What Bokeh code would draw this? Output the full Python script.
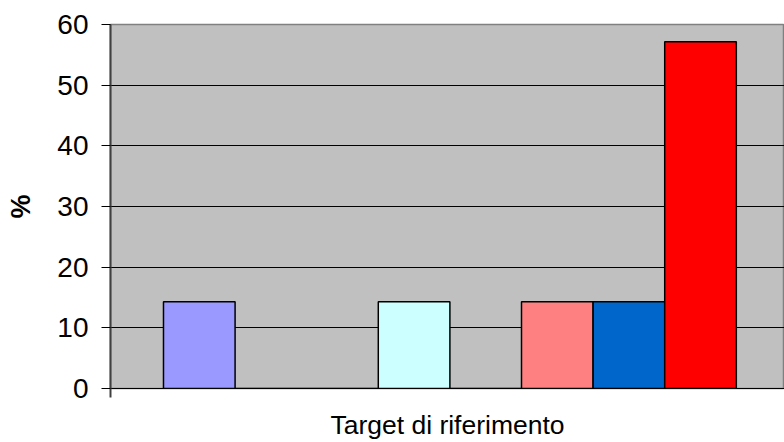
from bokeh.plotting import figure
from bokeh.models import Range1d, FixedTicker, ColumnDataSource, CustomJSTickFormatter
from bokeh.embed import file_html
from bokeh.resources import INLINE

# Data
series = ["Serie 1", "Serie 2", "Serie 3", "Serie 4", "Serie 5", "Serie 6", "Serie 7", "Serie 8"]
values = [14.29, 0.0, 0.0, 14.29, 0.0, 14.29, 14.29, 57.14]
colors = ["#9999FF", "#993366", "#FFFFCC", "#CCFFFF", "#660066", "#FF8080", "#0066CC", "#FF0000"]
y_ticks = [0, 10, 20, 30, 40, 50, 60]
x_label = "Target di riferimento"
y_label = "%"

positions = list(range(len(series)))
src = ColumnDataSource(dict(x=positions, top=values, color=colors, name=series))

p = figure(width=784, height=442, output_backend="svg", toolbar_location=None,
           x_range=Range1d(-1.24, 8.173), y_range=Range1d(0, 60),
           min_border_left=110, min_border_right=0, min_border_top=24, min_border_bottom=54)

p.background_fill_color = "#C0C0C0"
p.border_fill_color = "white"
p.outline_line_color = "#808080"
p.outline_line_width = 1.5

p.vbar(x="x", top="top", bottom=0, width=1.0, fill_color="color", line_color="black",
       line_width=1.5, source=src)

# Y axis
p.yaxis.ticker = FixedTicker(ticks=y_ticks)
p.yaxis.major_label_text_font = "Liberation Sans"
p.yaxis.major_label_text_font_size = "28px"
p.yaxis.major_label_text_color = "black"
p.yaxis.major_tick_out = 9
p.yaxis.major_tick_in = 0
p.yaxis.minor_tick_out = 0
p.yaxis.minor_tick_in = 0
p.yaxis.major_tick_line_color = "black"
p.yaxis.axis_line_color = "#404040"
p.yaxis.axis_line_width = 2
p.yaxis.major_label_standoff = 13
p.yaxis.axis_label = y_label
p.yaxis.axis_label_text_font = "Liberation Sans"
p.yaxis.axis_label_text_font_size = "27px"
p.yaxis.axis_label_text_font_style = "bold"
p.yaxis.axis_label_text_color = "black"
p.yaxis.axis_label_standoff = 18

# X axis
p.xaxis.ticker = FixedTicker(ticks=[-1.24])
p.xaxis.formatter = CustomJSTickFormatter(code="return ''")
p.xaxis.major_label_text_font_size = "26px"
p.xaxis.major_label_standoff = 0
p.xaxis.major_tick_out = 9
p.xaxis.major_tick_in = 0
p.xaxis.minor_tick_out = 0
p.xaxis.minor_tick_in = 0
p.xaxis.major_tick_line_color = "#404040"
p.xaxis.major_tick_line_width = 2
p.xaxis.axis_line_color = "black"
p.xaxis.axis_label = x_label
p.xaxis.axis_label_text_font = "Liberation Sans"
p.xaxis.axis_label_text_font_size = "26.5px"
p.xaxis.axis_label_text_font_style = "normal"
p.xaxis.axis_label_text_color = "black"
p.xaxis.axis_label_standoff = 12

# Grid
p.xgrid.grid_line_color = None
p.ygrid.ticker = FixedTicker(ticks=y_ticks)
p.ygrid.grid_line_color = "black"
p.ygrid.grid_line_width = 1

open("out.html", "w").write(file_html(p, INLINE))
